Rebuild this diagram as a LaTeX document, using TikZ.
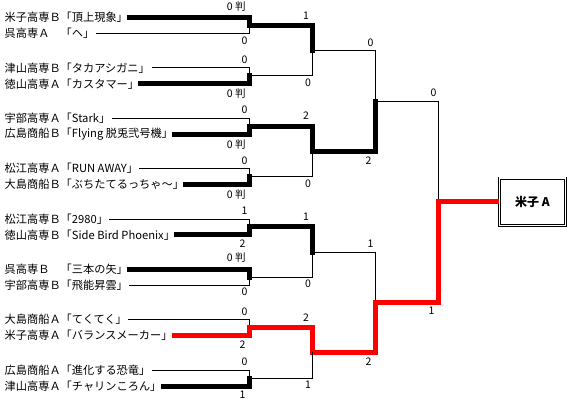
\documentclass[tikz,border=0pt]{standalone}
\usepackage{fontspec}
\setmainfont{Noto Sans CJK JP}
\usepackage{tikz}

\begin{document}
\begin{tikzpicture}[x=1pt, y=1pt, grow=left,
    % Espacements de l'arbre (de la finale vers les équipes)
    level 1/.style={sibling distance=201.4pt, level distance=63pt},
    level 2/.style={sibling distance=100.7pt, level distance=62.5pt},
    level 3/.style={sibling distance=50.36pt, level distance=63.5pt},
    level 4/.style={sibling distance=16pt, level distance=246pt},
    % Style pour les noms des équipes
    teamnode/.style={anchor=west, inner sep=1.5pt, font=\fontsize{11.2}{11.2}\selectfont},
    % Style pour les scores (au-dessus / au-dessous des lignes)
    scorenode/.style={pos=0.5, inner sep=1pt, font=\fontsize{10.5}{10.5}\selectfont},
    scoreup/.style={scorenode, anchor=south east, yshift=3pt},
    scoredown/.style={scorenode, anchor=north east, yshift=-1.5pt},
    % Style pour le vainqueur final
    champbox/.style={draw, double, line width=0.8pt, double distance=1.6pt,
        minimum width=66pt, minimum height=47pt, font=\bfseries\fontsize{12}{12}\selectfont},
    % Style pour les lignes de liaison
    edge from parent/.style={draw=black, line width=0.9pt},
    edge from parent path={(\tikzparentnode\tikzparentanchor) |- (\tikzchildnode\tikzchildanchor)},
    winline/.style={line width=5pt, line cap=rect},
    redline/.style={winline, draw=red}
]
\useasboundingbox (0,0) rectangle (572,402);

% Finale
\node[coordinate] (fin) at (438,200.2) {}
    child {coordinate (sf1)
        child {coordinate (qf1)
            child {coordinate (m1)
                child {node[teamnode] (t1) {米子高専Ｂ「頂上現象」} edge from parent[winline] node[scoreup] {0 判}}
                child {node[teamnode] (t2) {呉高専Ａ　「ヘ」} edge from parent node[scoredown] {0}}
                edge from parent[winline] node[scoreup] {1}
            }
            child {coordinate (m2)
                child {node[teamnode] (t3) {津山高専Ｂ「タカアシガニ」} edge from parent node[scoreup] {0}}
                child {node[teamnode] (t4) {徳山高専Ａ「カスタマー」} edge from parent[winline] node[scoredown] {0 判}}
                edge from parent node[scoredown] {0}
            }
            edge from parent node[scoreup] {0}
        }
        child {coordinate (qf2)
            child {coordinate (m3)
                child {node[teamnode] (t5) {宇部高専Ａ「Stark」} edge from parent node[scoreup] {0}}
                child {node[teamnode] (t6) {広島商船Ｂ「Flying 脱兎弐号機」} edge from parent[winline] node[scoredown] {0 判}}
                edge from parent[winline] node[scoreup] {2}
            }
            child {coordinate (m4)
                child {node[teamnode] (t7) {松江高専Ａ「RUN AWAY」} edge from parent node[scoreup] {0}}
                child {node[teamnode] (t8) {大島商船Ｂ「ぶちたてるっちゃ〜」} edge from parent[winline] node[scoredown] {0 判}}
                edge from parent node[scoredown] {0}
            }
            edge from parent[winline] node[scoredown] {2}
        }
        edge from parent node[scoreup] {0}
    }
    child {coordinate (sf2)
        child {coordinate (qf3)
            child {coordinate (m5)
                child {node[teamnode] (t9) {松江高専Ｂ「2980」} edge from parent node[scoreup] {1}}
                child {node[teamnode] (t10) {徳山高専Ｂ「Side Bird Phoenix」} edge from parent[winline] node[scoredown] {2}}
                edge from parent[winline] node[scoreup] {1}
            }
            child {coordinate (m6)
                child {node[teamnode] (t11) {呉高専Ｂ　「三本の矢」} edge from parent[winline] node[scoreup] {0 判}}
                child {node[teamnode] (t12) {宇部高専Ｂ「飛能昇雲」} edge from parent node[scoredown] {0}}
                edge from parent node[scoredown] {0}
            }
            edge from parent node[scoreup] {1}
        }
        child {coordinate (qf4)
            child {coordinate (m7)
                child {node[teamnode] (t13) {大島商船Ａ「てくてく」} edge from parent node[scoreup] {0}}
                child {node[teamnode] (t14) {米子高専Ａ「バランスメーカー」} edge from parent[redline] node[scoredown] {2}}
                edge from parent[redline] node[scoreup] {2}
            }
            child {coordinate (m8)
                child {node[teamnode] (t15) {広島商船Ａ「進化する恐竜」} edge from parent node[scoreup] {0}}
                child {node[teamnode] (t16) {津山高専Ａ「チャリンころん」} edge from parent[winline] node[scoredown] {1}}
                edge from parent node[scoredown] {1}
            }
            edge from parent[redline] node[scoredown] {2}
        }
        edge from parent[redline] node[scoredown] {1}
    };

% Vainqueur
\node[champbox] (champ) at (532.5,200.2) {米子 A};
\draw[redline, line cap=butt] (fin) -- (champ);

\end{tikzpicture}
\end{document}
